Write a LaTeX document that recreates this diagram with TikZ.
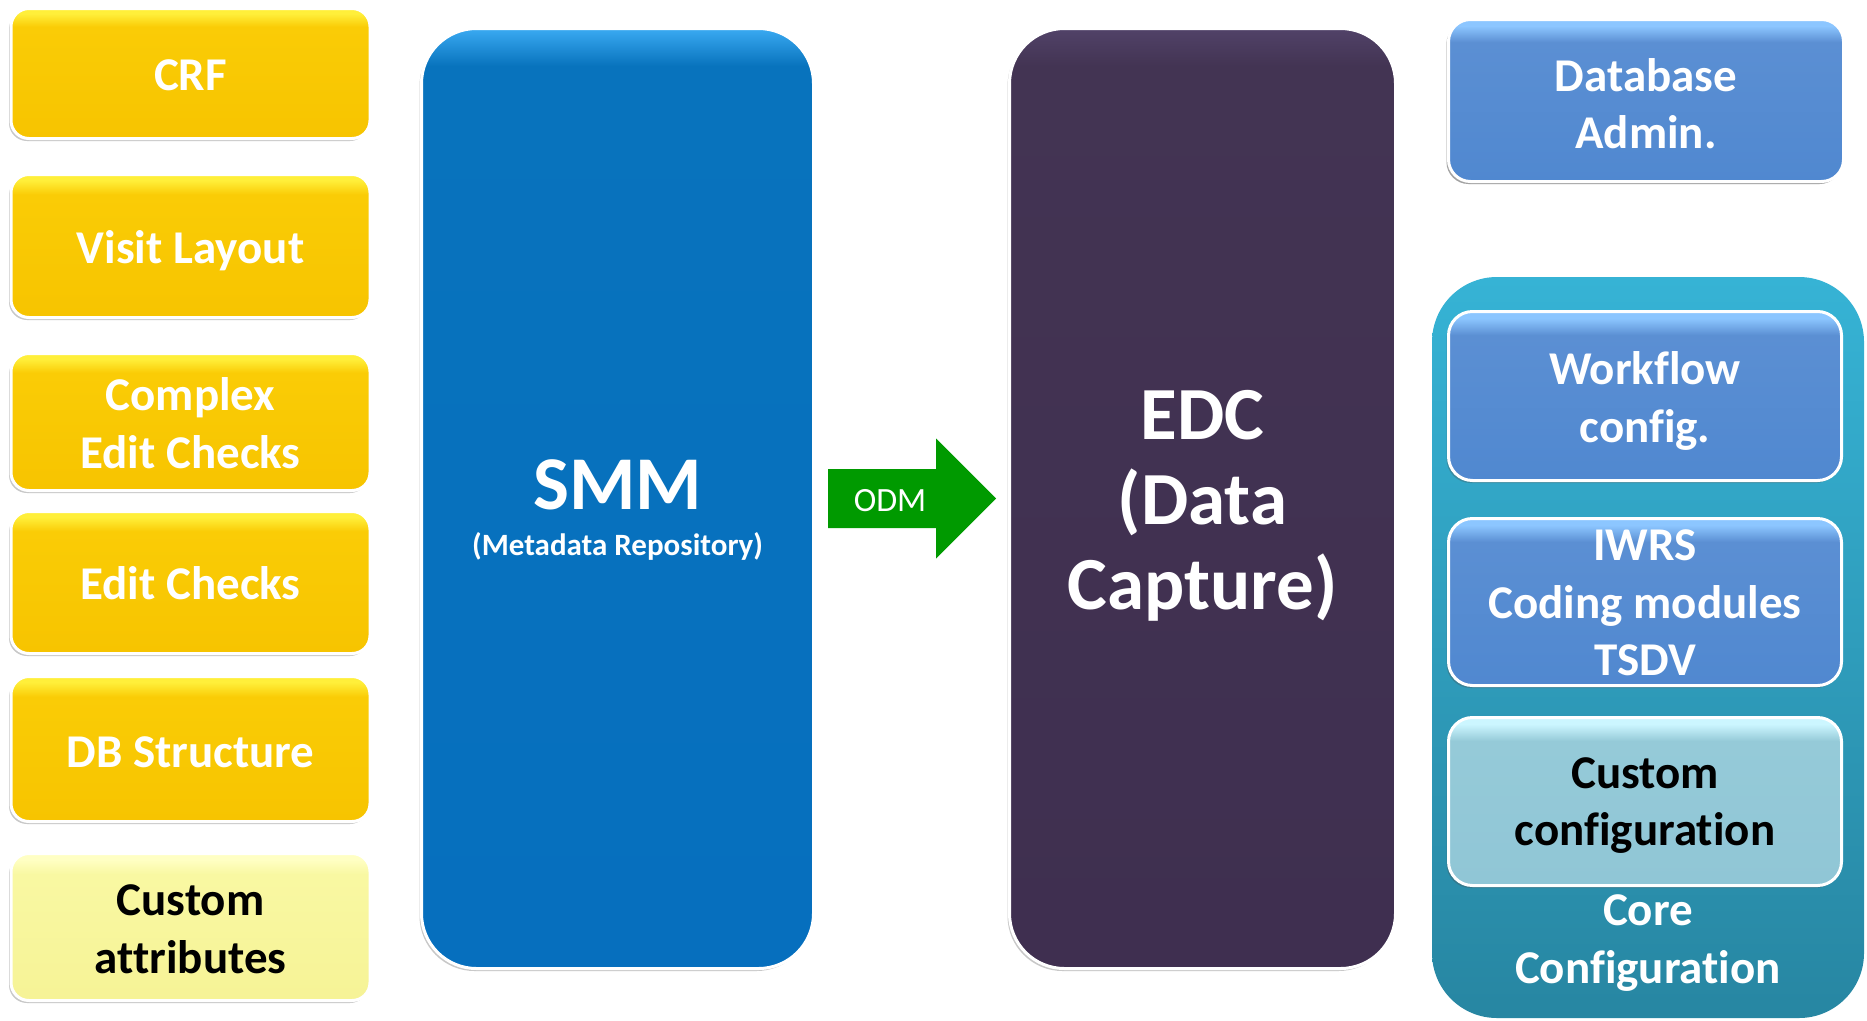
\documentclass[tikz,border=0pt]{standalone}
\usepackage{fontspec}
\setmainfont{Carlito}[Ligatures=NoCommon]
\usetikzlibrary{shadows,calc}

\definecolor{yelD}{HTML}{F7C400}
\definecolor{yelM}{HTML}{FACC06}
\definecolor{yelL}{HTML}{FFEF3A}
\definecolor{lyelD}{HTML}{F6F396}
\definecolor{lyelM}{HTML}{F9F8A2}
\definecolor{lyelL}{HTML}{FFFFC4}
\definecolor{smmM}{HTML}{0873BD}
\definecolor{smmD}{HTML}{066FBE}
\definecolor{smmL}{HTML}{3AAAF2}
\definecolor{edcM}{HTML}{433453}
\definecolor{edcD}{HTML}{3F2F50}
\definecolor{edcL}{HTML}{514268}
\definecolor{dbbM}{HTML}{5B8FD3}
\definecolor{dbbD}{HTML}{5088D0}
\definecolor{dbbL}{HTML}{8CC6FF}
\definecolor{ccM}{HTML}{95CAD8}
\definecolor{ccD}{HTML}{90C6D6}
\definecolor{ccL}{HTML}{CCF6FF}
\definecolor{contT}{HTML}{36B3D5}
\definecolor{contB}{HTML}{2786A2}
\definecolor{odmgreen}{HTML}{009A00}

\pgfdeclareverticalshading{yelsh}{100bp}{color(0bp)=(yelD); color(25bp)=(yelD); color(68bp)=(yelM); color(73bp)=(yelL); color(100bp)=(yelL)}
\pgfdeclareverticalshading{lyelsh}{100bp}{color(0bp)=(lyelD); color(25bp)=(lyelD); color(68bp)=(lyelM); color(73bp)=(lyelL); color(100bp)=(lyelL)}
\pgfdeclareverticalshading{smmsh}{100bp}{color(0bp)=(smmD); color(25bp)=(smmD); color(73bp)=(smmM); color(75bp)=(smmL); color(100bp)=(smmL)}
\pgfdeclareverticalshading{edcsh}{100bp}{color(0bp)=(edcD); color(25bp)=(edcD); color(73bp)=(edcM); color(75bp)=(edcL); color(100bp)=(edcL)}
\pgfdeclareverticalshading{dbbsh}{100bp}{color(0bp)=(dbbD); color(25bp)=(dbbD); color(68bp)=(dbbM); color(73bp)=(dbbL); color(100bp)=(dbbL)}
\pgfdeclareverticalshading{ccsh}{100bp}{color(0bp)=(ccD); color(25bp)=(ccD); color(68bp)=(ccM); color(73bp)=(ccL); color(100bp)=(ccL)}
\pgfdeclareverticalshading{contsh}{100bp}{color(0bp)=(contB); color(25bp)=(contB); color(75bp)=(contT); color(100bp)=(contT)}

\newcommand\bxfont{\fontsize{47}{57.5}\selectfont\bfseries}

\tikzset{
  glossbox/.style={rectangle, rounded corners=#1, draw=white, line width=3pt,
    inner sep=0pt,
    drop shadow={shadow xshift=-2pt, shadow yshift=-2.5pt, fill=black!70, opacity=0.3}},
  leftbox/.style={glossbox=18pt, minimum width=359pt, shading=yelsh},
  rightbox/.style={glossbox=24pt, minimum width=393pt, shading=dbbsh},
  bigbox/.style={glossbox=55pt, minimum height=940pt},
  txt/.style={inner sep=0pt, align=center, text=white, font=\bxfont},
  plaintext/.style={inner sep=0pt, align=center, text=white},
}

\begin{document}
\begin{tikzpicture}[x=1pt, y=-1pt]
\useasboundingbox (0,0) rectangle (1867,1020);
\fill[white] (0,0) rectangle (1867,1020);

% left column
\node[leftbox, minimum height=130pt, label={[txt, yshift=-2pt]center:CRF}] (crf) at (190.5,73.5) {};
\node[leftbox, minimum height=143pt, label={[txt, yshift=-5pt]center:Visit Layout}] (visit) at (190.5,246) {};
\node[leftbox, minimum height=137pt, label={[txt, yshift=-1pt]center:Complex\\Edit Checks}] (complex) at (190.5,422) {};
\node[leftbox, minimum height=142pt, label={[txt, yshift=-1pt]center:Edit Checks}] (edit) at (190.5,582.5) {};
\node[leftbox, minimum height=145pt, label={[txt, yshift=-3pt]center:DB Structure}] (dbs) at (190.5,749) {};
\node[leftbox, minimum height=147pt, shading=lyelsh, label={[txt, text=black, yshift=-2pt]center:Custom\\attributes}] (cattr) at (190.5,927) {};

% SMM
\node[bigbox, minimum width=392pt, shading=smmsh] (smm) at (617.5,498.5) {};
\node[plaintext, font=\fontsize{76}{90}\selectfont\bfseries] (smmt) at (617.5,485) {SMM};
\node[plaintext, font=\fontsize{31}{37}\selectfont\bfseries] (smms) at (617.5,546) {(Metadata Repository)};

% EDC
\node[bigbox, minimum width=386pt, shading=edcsh] (edc) at (1202.5,498.5) {};
\node[plaintext, font=\fontsize{75}{85}\selectfont\bfseries] (edct) at (1202.5,506) {EDC\\(Data\\Capture)};

% ODM arrow
\coordinate (a) at ($(smm.east)+(13,0)$);
\coordinate (b) at ($(edc.west)+(-12,0)$);
\fill[odmgreen] ($(a)+(0,-29.5)$) -- ($(b)+(-60,-29.5)$) -- ($(b)+(-60,-60)$) -- (b)
  -- ($(b)+(-60,60)$) -- ($(b)+(-60,29.5)$) -- ($(a)+(0,29.5)$) -- cycle;
\node[plaintext, font=\fontsize{34}{40}\selectfont] (odm) at ($(a)+(62,2)$) {ODM};

% right column
\node[rightbox, minimum width=395pt, minimum height=162pt, glossbox=22pt, label={[txt, yshift=-3pt]center:Database\\Admin.}] (dba) at (1646,100.5) {};

\node[rectangle, rounded corners=65pt, shading=contsh, minimum width=432pt, minimum height=741pt, inner sep=0pt] (core) at (1648,647.5) {};
\node[rightbox, minimum height=169pt, label={[txt, yshift=-5pt]center:Workflow\\config.}] (wf) at (1645,396) {};
\node[rightbox, minimum height=167pt, label={[txt, yshift=-1pt]center:IWRS\\Coding modules\\TSDV}] (iwrs) at (1645,602) {};
\node[rightbox, minimum height=168pt, shading=ccsh, label={[txt, text=black, yshift=-4pt]center:Custom\\configuration}] (ccfg) at (1645,801.5) {};
\node[txt] (coret) at (1648,943) {Core\\Configuration};
\end{tikzpicture}
\end{document}
